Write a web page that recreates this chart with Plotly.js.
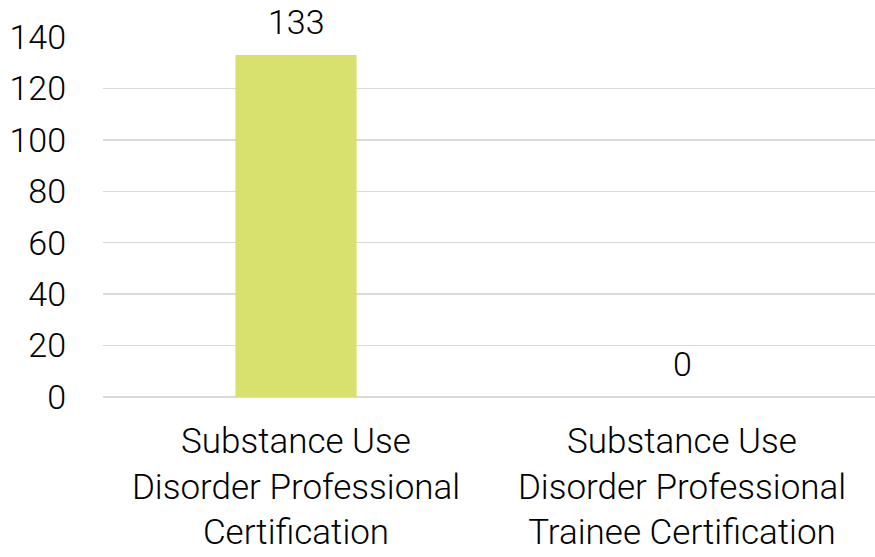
<!DOCTYPE html>
<html>
<head>
<meta charset="utf-8">
<script src="https://cdn.plot.ly/plotly-3.0.1.min.js"></script>
<style>html,body{margin:0;padding:0;background:#fff;}#chart{width:875px;height:557px;}</style>
</head>
<body>
<div id="chart"></div>
<script>
const categories = [
  "Substance Use<br>Disorder Professional<br>Certification",
  "Substance Use<br>Disorder Professional<br>Trainee Certification"
];
const values = [133, 0];
const yTicks = [0, 20, 40, 60, 80, 100, 120, 140];

const FONT = "Roboto, 'Noto Sans', sans-serif";

const trace = {
  type: 'bar',
  x: categories,
  y: values,
  width: 0.314,
  marker: {color: '#d8e16d'},
  hoverinfo: 'none'
};

const annotations = categories.map((c, i) => ({
  x: c, y: values[i], xref: 'x', yref: 'y',
  text: String(values[i]),
  showarrow: false,
  yanchor: 'bottom',
  yshift: 11,
  font: {family: FONT, size: 34, color: '#000', weight: 300}
}));

const layout = {
  width: 875, height: 557,
  margin: {l: 103, r: 0, t: 37, b: 160},
  paper_bgcolor: '#fff', plot_bgcolor: '#fff',
  showlegend: false,
  font: {family: FONT, size: 34, color: '#000', weight: 300},
  xaxis: {
    type: 'category',
    showgrid: false, showline: false, zeroline: false,
    ticks: '', ticklabelstandoff: 20,
    tickfont: {family: FONT, size: 35, color: '#000', weight: 300}
  },
  yaxis: {
    range: [0, 140],
    tickvals: yTicks,
    ticktext: yTicks.map(String),
    showgrid: true, gridcolor: '#d9d9d9', gridwidth: 1.5,
    zeroline: true, zerolinecolor: '#d9d9d9', zerolinewidth: 1.5,
    showline: false, ticks: '', ticklabelstandoff: 36,
    tickfont: {family: FONT, size: 34, color: '#000', weight: 300}
  },
  annotations: annotations
};

Plotly.newPlot('chart', [trace], layout, {displayModeBar: false, staticPlot: true});
</script>
</body>
</html>
